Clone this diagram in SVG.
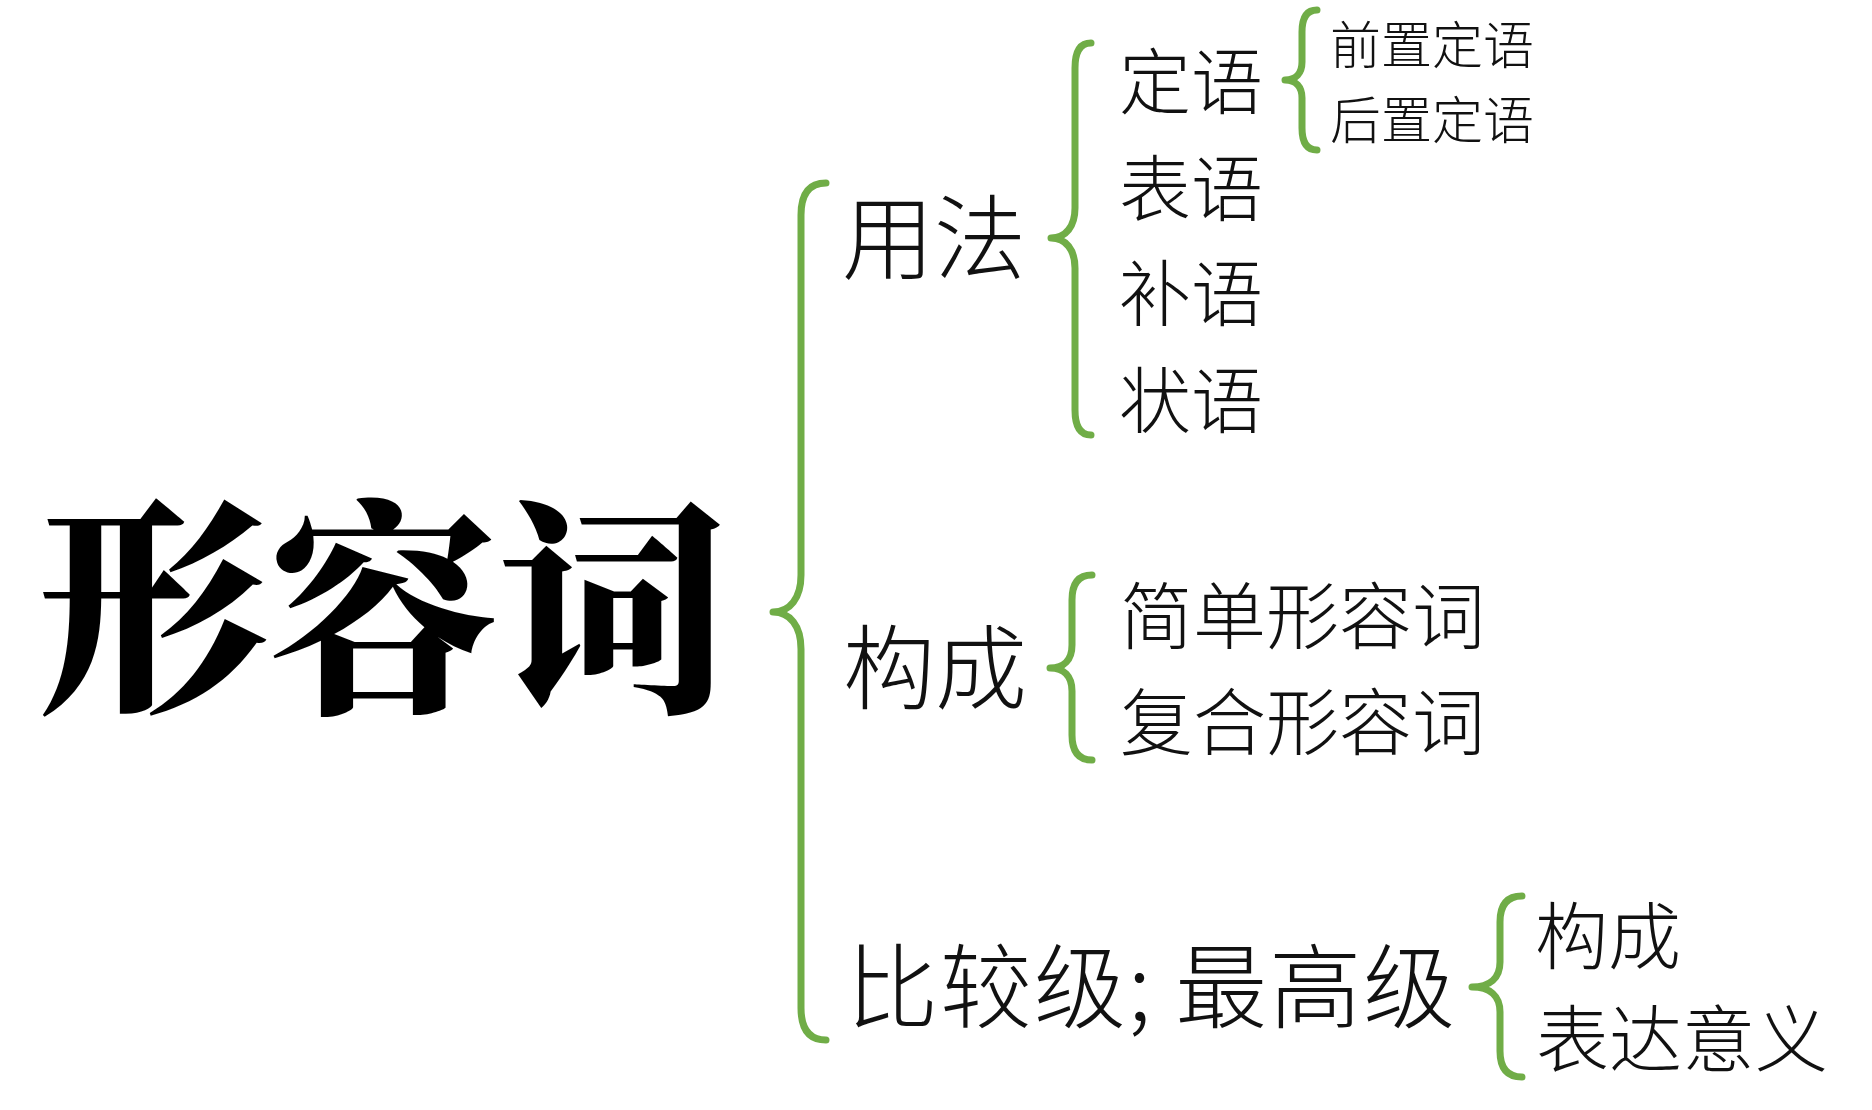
<svg xmlns="http://www.w3.org/2000/svg" width="1872" height="1110" viewBox="0 0 1872 1110">
<style>
.t{font-family:"Noto Sans CJK SC","Noto Sans",sans-serif;font-weight:300;fill:#111}
.title{font-family:"Noto Serif CJK SC","Noto Sans CJK SC",serif;font-weight:900;fill:#000}
.br{fill:none;stroke:#70AD47;stroke-width:7;stroke-linecap:round;stroke-linejoin:round}
</style>
<rect width="1872" height="1110" fill="#fff"/>
<g id="connectors">
<path class="br" d="M 826 183 Q 801 183 801 215 L 801 575 C 801 598 790 612 773 612 C 790 612 801 626 801 649 L 801 1008 Q 801 1040 826 1040"/>
<path class="br" d="M 1091 43 Q 1075 43 1075 68 L 1075 208 C 1075 226 1066 238 1051 238 C 1066 238 1075 250 1075 268 L 1075 410 Q 1075 435 1091 435"/>
<path class="br" d="M 1317 10 Q 1302 10 1302 32 L 1302 62 C 1302 73 1296 80 1285 80 C 1296 80 1302 87 1302 98 L 1302 128 Q 1302 150 1317 150"/>
<path class="br" d="M 1092 575 Q 1072 575 1072 600 L 1072 645 C 1072 660 1064 668 1050 668 C 1064 668 1072 676 1072 691 L 1072 735 Q 1072 760 1092 760"/>
<path class="br" d="M 1522 896 Q 1500 896 1500 922 L 1500 962 C 1500 978 1490 987 1472 987 C 1490 987 1500 996 1500 1012 L 1500 1051 Q 1500 1077 1522 1077"/>
</g>
<g id="root"><text class="title" x="38" y="694" font-size="230">形容词</text></g>
<g id="usage"><text class="t" x="842" y="272" font-size="92">用法</text></g>
<g id="attr"><text class="t" x="1119" y="108" font-size="72">定语</text></g>
<g id="pre-attr"><text class="t" x="1330" y="64" font-size="51">前置定语</text></g>
<g id="post-attr"><text class="t" x="1330" y="139" font-size="51">后置定语</text></g>
<g id="pred"><text class="t" x="1119" y="215" font-size="72">表语</text></g>
<g id="comp"><text class="t" x="1119" y="320" font-size="72">补语</text></g>
<g id="adv"><text class="t" x="1119" y="427" font-size="72">状语</text></g>
<g id="formation"><text class="t" x="843" y="702" font-size="92">构成</text></g>
<g id="simple"><text class="t" x="1120" y="643" font-size="73">简单形容词</text></g>
<g id="compound"><text class="t" x="1120" y="749" font-size="73">复合形容词</text></g>
<g id="degrees"><text class="t" x="846" y="1021" font-size="92" letter-spacing="2">比较级; 最高级</text></g>
<g id="deg-form"><text class="t" x="1535" y="963" font-size="73">构成</text></g>
<g id="deg-meaning"><text class="t" x="1536" y="1066" font-size="73">表达意义</text></g>
</svg>
